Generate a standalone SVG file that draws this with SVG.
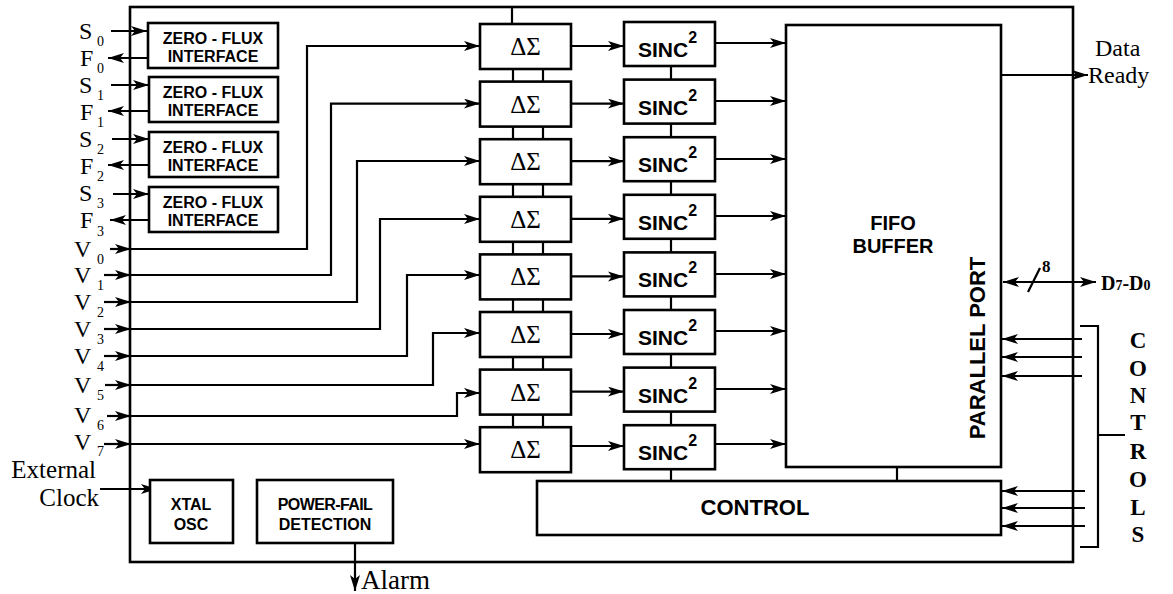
<svg xmlns="http://www.w3.org/2000/svg" width="1173" height="594" viewBox="0 0 1173 594">
<style>
.box{fill:#fff;stroke:#000;stroke-width:2.6}
.ln{fill:none;stroke:#000;stroke-width:2.2}
.ar{fill:none;stroke:#000;stroke-width:2.2;marker-end:url(#ah)}
.ser{font-family:"Liberation Serif",serif;fill:#000}
.sans{font-family:"Liberation Sans",Arial,sans-serif;font-weight:bold;fill:#000}
.lbl{font-size:24px}
.sub{font-size:14px}
.zf{font-size:16px;text-anchor:middle}
.ds{font-size:25px;text-anchor:middle}
.sinc{font-size:21px}
.sup{font-size:16px}
.big{font-size:20px;text-anchor:middle}
.ctl{font-family:"Liberation Serif",serif;font-weight:bold;font-size:23px;text-anchor:middle}
</style>
<defs>
<marker id="ah" markerUnits="userSpaceOnUse" markerWidth="17" markerHeight="11" refX="16" refY="5" orient="auto-start-reverse">
<path d="M0,0 L16,5 L0,10 L4,5 z" fill="#000"/>
</marker>
</defs>
<rect id="outer" class="box" x="130" y="7" width="943" height="555"/>
<g id="connectors">
<line class="ar" x1="111" y1="31" x2="147" y2="31"/>
<line class="ar" x1="148" y1="58" x2="108" y2="58"/>
<line class="ar" x1="111" y1="85" x2="149" y2="85"/>
<line class="ar" x1="149" y1="111" x2="108" y2="111"/>
<line class="ar" x1="112" y1="139" x2="149" y2="139"/>
<line class="ar" x1="149" y1="165" x2="108" y2="165"/>
<line class="ar" x1="113" y1="194" x2="149" y2="194"/>
<line class="ar" x1="149" y1="220" x2="110" y2="220"/>
<line class="ar" x1="110" y1="249" x2="131" y2="249"/>
<line class="ar" x1="104" y1="275" x2="131" y2="275"/>
<line class="ar" x1="104" y1="302" x2="131" y2="302"/>
<line class="ar" x1="104" y1="329" x2="131" y2="329"/>
<line class="ar" x1="104" y1="356" x2="131" y2="356"/>
<line class="ar" x1="105" y1="385" x2="131" y2="385"/>
<line class="ar" x1="107" y1="416" x2="131" y2="416"/>
<line class="ar" x1="104" y1="444" x2="131" y2="444"/>
<path class="ar" d="M130,249 H307 V46 H480"/>
<path class="ar" d="M130,275 H331 V103.6 H480"/>
<path class="ar" d="M130,302 H357 V161 H480"/>
<path class="ar" d="M130,329 H380 V219 H480"/>
<path class="ar" d="M130,356 H407 V275 H480"/>
<path class="ar" d="M130,385 H433 V333 H480"/>
<path class="ar" d="M130,416 H457 V393 H480"/>
<path class="ar" d="M130,444 H480"/>
<line class="ln" x1="512" y1="7" x2="512" y2="24"/>
<path class="ln" d="M513,69 V81.6 M543,69 V81.6 M513,126.6 V139.2 M543,126.6 V139.2 M513,184.2 V196.8 M543,184.2 V196.8 M513,241.8 V254.4 M543,241.8 V254.4 M513,299.4 V312 M543,299.4 V312 M513,357 V369.6 M543,357 V369.6 M513,414.6 V427.2 M543,414.6 V427.2"/>
<path class="ln" d="M671,66 V79.6 M671,123.6 V137.2 M671,181.2 V194.8 M671,238.8 V252.4 M671,296.4 V310 M671,354 V367.6 M671,411.6 V425.2 M671,469.2 V481"/>
<line class="ar" x1="571" y1="46" x2="624" y2="46"/>
<line class="ar" x1="571" y1="103.6" x2="624" y2="103.6"/>
<line class="ar" x1="571" y1="161.2" x2="624" y2="161.2"/>
<line class="ar" x1="571" y1="218.8" x2="624" y2="218.8"/>
<line class="ar" x1="571" y1="276.4" x2="624" y2="276.4"/>
<line class="ar" x1="571" y1="334" x2="624" y2="334"/>
<line class="ar" x1="571" y1="391.6" x2="624" y2="391.6"/>
<line class="ar" x1="571" y1="446" x2="624" y2="446"/>
<line class="ar" x1="715" y1="43" x2="786" y2="43"/>
<line class="ar" x1="715" y1="101" x2="786" y2="101"/>
<line class="ar" x1="715" y1="159" x2="786" y2="159"/>
<line class="ar" x1="715" y1="216" x2="786" y2="216"/>
<line class="ar" x1="715" y1="274" x2="786" y2="274"/>
<line class="ar" x1="715" y1="331" x2="786" y2="331"/>
<line class="ar" x1="715" y1="389" x2="786" y2="389"/>
<line class="ar" x1="715" y1="444" x2="786" y2="444"/>
<line class="ln" x1="897" y1="467" x2="897" y2="481"/>
<line class="ar" x1="1001" y1="75" x2="1088" y2="75"/>
<line class="ln" x1="1003" y1="282" x2="1096" y2="282" marker-start="url(#ah)" marker-end="url(#ah)"/>
<line class="ln" x1="1028" y1="292" x2="1040" y2="268"/>
<line class="ar" x1="1082" y1="339" x2="1002" y2="339"/>
<line class="ar" x1="1082" y1="357" x2="1002" y2="357"/>
<line class="ar" x1="1082" y1="376" x2="1002" y2="376"/>
<line class="ar" x1="1085" y1="491" x2="1002" y2="491"/>
<line class="ar" x1="1085" y1="508" x2="1002" y2="508"/>
<line class="ar" x1="1085" y1="526" x2="1002" y2="526"/>
<path class="ln" d="M1080,326 H1098 V547 H1080 M1098,435 H1125"/>
<line class="ar" x1="100" y1="489" x2="157" y2="489"/>
<line class="ar" x1="355" y1="537" x2="355" y2="591"/>
</g>
<g id="zf0"><rect class="box" x="148" y="23" width="130" height="45"/><text class="sans zf" x="213" y="44">ZERO - FLUX</text><text class="sans zf" x="213" y="62">INTERFACE</text></g>
<g id="zf1"><rect class="box" x="149" y="77" width="129" height="45"/><text class="sans zf" x="213" y="98">ZERO - FLUX</text><text class="sans zf" x="213" y="116">INTERFACE</text></g>
<g id="zf2"><rect class="box" x="149" y="132" width="129" height="45"/><text class="sans zf" x="213" y="153">ZERO - FLUX</text><text class="sans zf" x="213" y="171">INTERFACE</text></g>
<g id="zf3"><rect class="box" x="149" y="187" width="129" height="45"/><text class="sans zf" x="213" y="208">ZERO - FLUX</text><text class="sans zf" x="213" y="226">INTERFACE</text></g>
<g id="labels-left" class="ser">
<text class="lbl" x="79" y="39">S</text><text class="sub" x="97" y="46">0</text>
<text class="lbl" x="80" y="66">F</text><text class="sub" x="97" y="73">0</text>
<text class="lbl" x="79" y="93">S</text><text class="sub" x="97" y="100">1</text>
<text class="lbl" x="80" y="120">F</text><text class="sub" x="97" y="127">1</text>
<text class="lbl" x="79" y="147">S</text><text class="sub" x="97" y="154">2</text>
<text class="lbl" x="80" y="174">F</text><text class="sub" x="97" y="181">2</text>
<text class="lbl" x="79" y="201">S</text><text class="sub" x="97" y="208">3</text>
<text class="lbl" x="80" y="228">F</text><text class="sub" x="97" y="236">3</text>
<text class="lbl" x="74" y="257">V</text><text class="sub" x="97" y="264">0</text>
<text class="lbl" x="74" y="283">V</text><text class="sub" x="97" y="290">1</text>
<text class="lbl" x="74" y="310">V</text><text class="sub" x="97" y="317">2</text>
<text class="lbl" x="74" y="337">V</text><text class="sub" x="97" y="344">3</text>
<text class="lbl" x="74" y="364">V</text><text class="sub" x="97" y="371">4</text>
<text class="lbl" x="74" y="393">V</text><text class="sub" x="97" y="400">5</text>
<text class="lbl" x="74" y="423">V</text><text class="sub" x="97" y="430">6</text>
<text class="lbl" x="74" y="450">V</text><text class="sub" x="97" y="456">7</text>
<text style="font-size:25px;text-anchor:end" x="96" y="478">External</text>
<text style="font-size:25px;text-anchor:end" x="99" y="506">Clock</text>
<text style="font-size:27px" x="361" y="589">Alarm</text>
<text style="font-size:24px" x="1095" y="56">Data</text>
<text style="font-size:24px" x="1088" y="83">Ready</text>
<text style="font-size:17px;font-weight:bold" x="1042" y="272">8</text>
<text style="font-size:20px;font-weight:bold" x="1101" y="290">D<tspan style="font-size:14px">7</tspan>-D<tspan style="font-size:14px">0</tspan></text>
</g>
<g id="ds0"><rect class="box" x="480" y="24" width="91" height="45"/><text class="ser ds" x="525.5" y="55">ΔΣ</text></g>
<g id="ds1"><rect class="box" x="480" y="81.6" width="91" height="45"/><text class="ser ds" x="525.5" y="112.6">ΔΣ</text></g>
<g id="ds2"><rect class="box" x="480" y="139.2" width="91" height="45"/><text class="ser ds" x="525.5" y="170.2">ΔΣ</text></g>
<g id="ds3"><rect class="box" x="480" y="196.8" width="91" height="45"/><text class="ser ds" x="525.5" y="227.8">ΔΣ</text></g>
<g id="ds4"><rect class="box" x="480" y="254.4" width="91" height="45"/><text class="ser ds" x="525.5" y="285.4">ΔΣ</text></g>
<g id="ds5"><rect class="box" x="480" y="312" width="91" height="45"/><text class="ser ds" x="525.5" y="343">ΔΣ</text></g>
<g id="ds6"><rect class="box" x="480" y="369.6" width="91" height="45"/><text class="ser ds" x="525.5" y="400.6">ΔΣ</text></g>
<g id="ds7"><rect class="box" x="480" y="427.2" width="91" height="45"/><text class="ser ds" x="525.5" y="458.2">ΔΣ</text></g>
<g id="sinc0"><rect class="box" x="624" y="22" width="91" height="44"/><text class="sans sinc" x="638" y="57">SINC<tspan class="sup" dy="-14">2</tspan></text></g>
<g id="sinc1"><rect class="box" x="624" y="79.6" width="91" height="44"/><text class="sans sinc" x="638" y="114.6">SINC<tspan class="sup" dy="-14">2</tspan></text></g>
<g id="sinc2"><rect class="box" x="624" y="137.2" width="91" height="44"/><text class="sans sinc" x="638" y="172.2">SINC<tspan class="sup" dy="-14">2</tspan></text></g>
<g id="sinc3"><rect class="box" x="624" y="194.8" width="91" height="44"/><text class="sans sinc" x="638" y="229.8">SINC<tspan class="sup" dy="-14">2</tspan></text></g>
<g id="sinc4"><rect class="box" x="624" y="252.4" width="91" height="44"/><text class="sans sinc" x="638" y="287.4">SINC<tspan class="sup" dy="-14">2</tspan></text></g>
<g id="sinc5"><rect class="box" x="624" y="310" width="91" height="44"/><text class="sans sinc" x="638" y="345">SINC<tspan class="sup" dy="-14">2</tspan></text></g>
<g id="sinc6"><rect class="box" x="624" y="367.6" width="91" height="44"/><text class="sans sinc" x="638" y="402.6">SINC<tspan class="sup" dy="-14">2</tspan></text></g>
<g id="sinc7"><rect class="box" x="624" y="425.2" width="91" height="44"/><text class="sans sinc" x="638" y="460.2">SINC<tspan class="sup" dy="-14">2</tspan></text></g>
<g id="fifo"><rect class="box" x="786" y="25" width="215" height="442"/>
<text class="sans big" x="893" y="230">FIFO</text><text class="sans big" x="893" y="253">BUFFER</text>
<text class="sans" style="font-size:22px;text-anchor:middle" transform="translate(985,348) rotate(-90)">PARALLEL PORT</text></g>
<g id="control"><rect class="box" x="537" y="481" width="464" height="54"/><text class="sans" style="font-size:22px;text-anchor:middle" x="755" y="515">CONTROL</text></g>
<g id="xtal"><rect class="box" x="150" y="480" width="83" height="63"/><text class="sans zf" x="191" y="510">XTAL</text><text class="sans zf" x="191" y="530">OSC</text></g>
<g id="powerfail"><rect class="box" x="257" y="480" width="136" height="63"/><text class="sans zf" style="letter-spacing:-0.6px" x="325" y="510">POWER-FAIL</text><text class="sans zf" x="325" y="530">DETECTION</text></g>
<g id="controls-label">
<text class="ctl" x="1138" y="348">C</text>
<text class="ctl" x="1138" y="376">O</text>
<text class="ctl" x="1138" y="403">N</text>
<text class="ctl" x="1138" y="430">T</text>
<text class="ctl" x="1138" y="459">R</text>
<text class="ctl" x="1138" y="487">O</text>
<text class="ctl" x="1138" y="515">L</text>
<text class="ctl" x="1138" y="542">S</text>
</g>
</svg>
